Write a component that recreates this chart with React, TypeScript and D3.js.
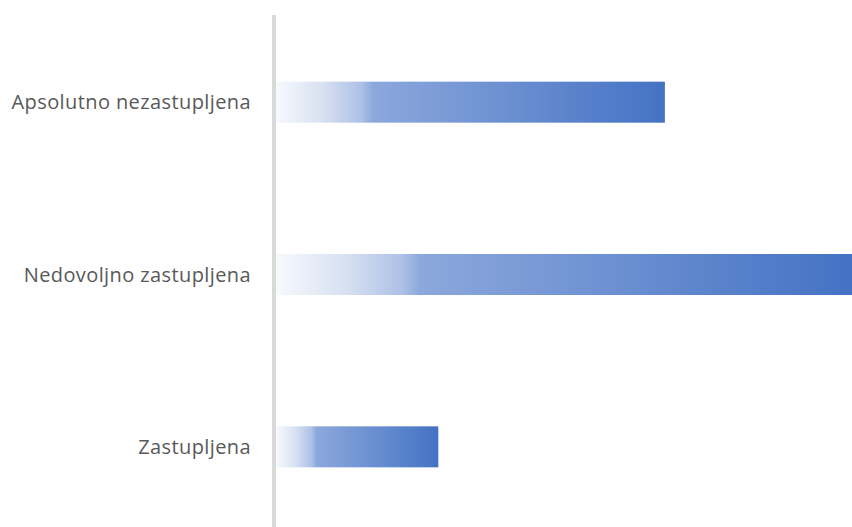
import React from "react";
import * as d3 from "d3";

const categories = ["Apsolutno nezastupljena", "Nedovoljno zastupljena", "Zastupljena"];
const values = [34.5, 51.1, 14.4];

const W = 852;
const H = 527;

export default function App() {
  const x = d3.scaleLinear().domain([0, 51.1]).range([276, 852]);
  const y = d3.scaleBand().domain(categories).range([16, 533]).paddingInner(0.762).paddingOuter(0.381);
  return (
    <svg width={W} height={H} style={{ position: "absolute", left: 0, top: 0, display: "block" }}>
      <defs>
        <linearGradient id="barGrad" x1="0" y1="0" x2="1" y2="0">
          <stop offset="0" stopColor="#f7f9fd" />
          <stop offset="0.12" stopColor="#d8e1f2" />
          <stop offset="0.22" stopColor="#adc0e6" />
          <stop offset="0.25" stopColor="#8ca8dc" />
          <stop offset="1" stopColor="#4472c4" />
        </linearGradient>
      </defs>
      <rect x={0} y={0} width={W} height={H} fill="#ffffff" />
      {categories.map((c, i) => (
        <rect
          key={c}
          x={x(0)}
          y={y(c)}
          width={x(values[i]) - x(0)}
          height={y.bandwidth()}
          fill="url(#barGrad)"
        />
      ))}
      <line x1={274} x2={274} y1={15} y2={H} stroke="#d9d9d9" strokeWidth={4} />
      {categories.map((c) => (
        <text
          key={c}
          x={251}
          y={(y(c) as number) + y.bandwidth() / 2}
          dy="0.35em"
          textAnchor="end"
          fontFamily="'Open Sans', sans-serif"
          fontSize={20}
          letterSpacing={0.4}
          fill="#595959"
        >
          {c}
        </text>
      ))}
    </svg>
  );
}
